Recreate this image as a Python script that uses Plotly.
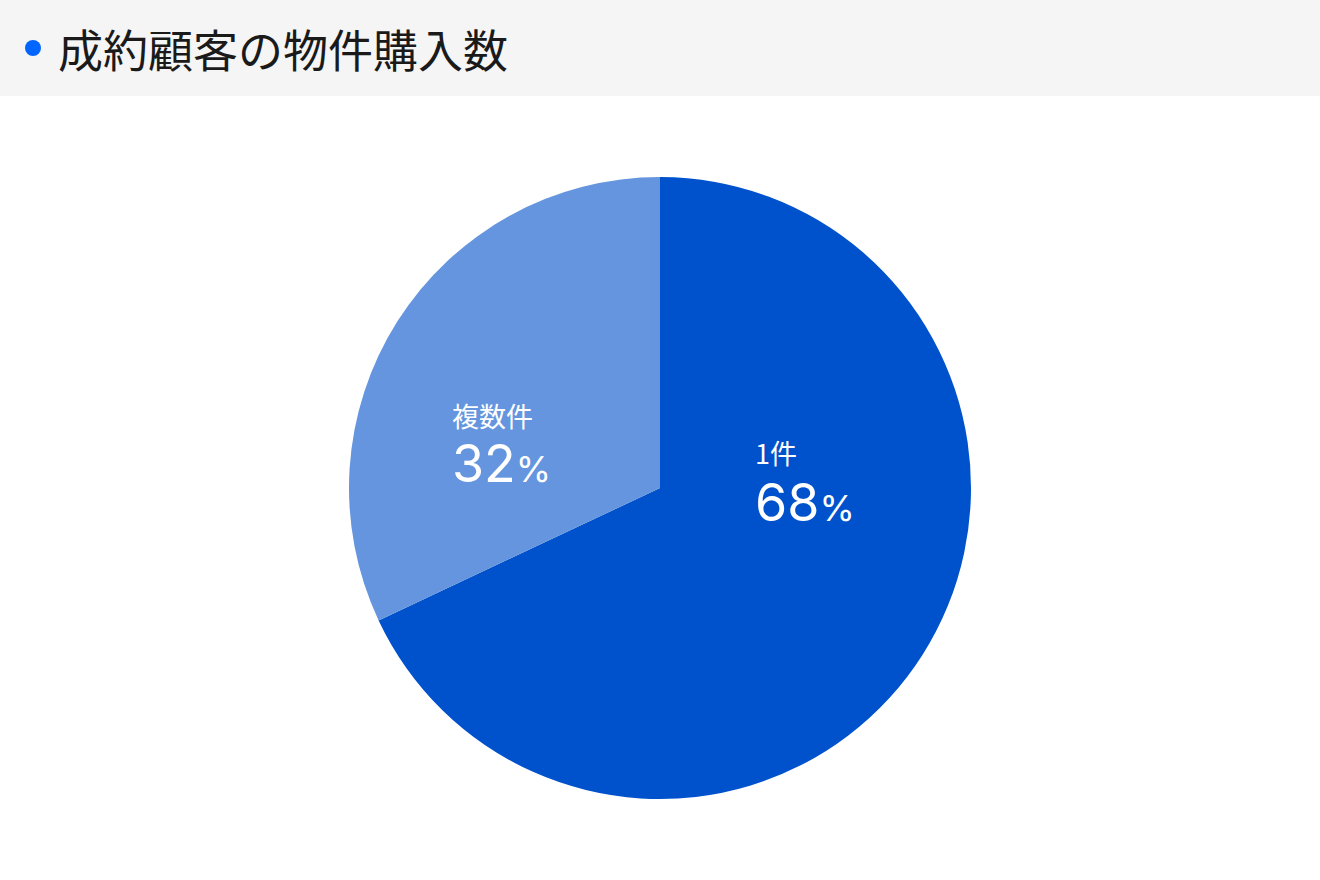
import plotly.graph_objects as go

# データ
title_text = "成約顧客の物件購入数"
labels = ["1件", "複数件"]
values = [68, 32]
colors = ["#0052CC", "#6495DE"]

W, H = 1320, 880
NUM_FONT = "Inter, Roboto, sans-serif"
CJK = "'Noto Sans CJK JP', sans-serif"


def px(x, y):
    # ピクセル座標 -> paper座標
    return x / W, 1 - y / H


fig = go.Figure(go.Pie(
    labels=labels,
    values=values,
    sort=False,
    direction="clockwise",
    rotation=0,
    marker=dict(colors=colors, line=dict(width=0)),
    textinfo="none",
    hoverinfo="label+percent",
    domain=dict(x=[0, 1], y=[81 / H, 703 / H]),
    showlegend=False,
))

# ヘッダー帯
fig.add_shape(type="rect", xref="paper", yref="paper", x0=0, x1=1, y0=1 - 96 / H, y1=1,
              fillcolor="#F5F5F5", line_width=0, layer="below")
# 青い丸
r = 8
fig.add_shape(type="circle", xref="paper", yref="paper",
              x0=(33 - r) / W, x1=(33 + r) / W, y0=1 - (48 + r) / H, y1=1 - (48 - r) / H,
              fillcolor="#0066FF", line_width=0)

annos = []
tx, ty = px(56, 48)
annos.append(dict(x=tx, y=ty, text=title_text, xanchor="left", yanchor="middle",
                  font=dict(family=CJK, size=45, color="#1A1A1A")))

# スライスのラベル
label_pos = {"1件": (753, 452, 502), "複数件": (450, 415, 464)}
for lab, val in zip(labels, values):
    lx, ly1, ly2 = label_pos[lab]
    x1, y1 = px(lx, ly1)
    x2, y2 = px(lx, ly2)
    annos.append(dict(x=x1, y=y1, text=lab, xanchor="left", yanchor="middle",
                      font=dict(family=CJK, size=27, color="white")))
    annos.append(dict(x=x2, y=y2, xanchor="left", yanchor="middle",
                      text=f"{val}<span style='font-size:36px'>%</span>",
                      font=dict(family=NUM_FONT, size=52, color="white")))

for a in annos:
    a.update(xref="paper", yref="paper", showarrow=False)

fig.update_layout(
    width=W, height=H,
    margin=dict(l=0, r=0, t=0, b=0),
    paper_bgcolor="white",
    plot_bgcolor="white",
    annotations=annos,
)

fig.write_html("out.html", config={"displayModeBar": False},
               post_script="document.body.style.margin='0';")
